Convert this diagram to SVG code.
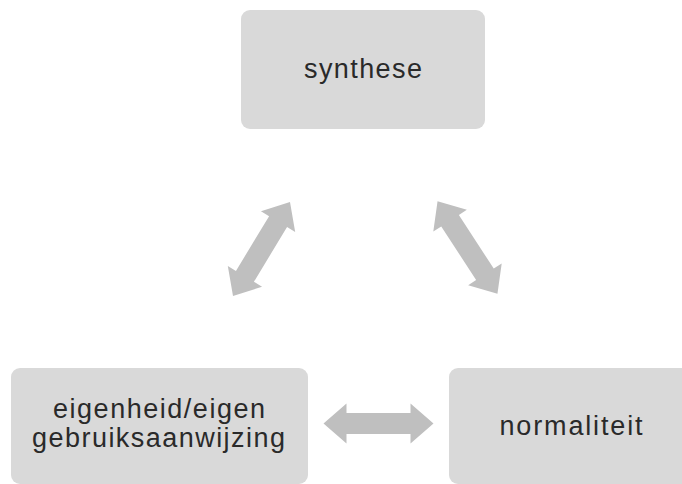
<svg xmlns="http://www.w3.org/2000/svg" width="682" height="484" viewBox="0 0 682 484">
<style>
.box{fill:#d9d9d9;}
.lbl{font-family:"Liberation Sans","DejaVu Sans",sans-serif;font-size:27px;fill:#2a2a2a;text-anchor:middle;}
.arr{fill:#bfbfbf;}
</style>
<defs>
<polygon id="dbl" points="-55,0 -32,-20 -32,-10.5 32,-10.5 32,-20 55,0 32,20 32,10.5 -32,10.5 -32,20"/>
</defs>
<rect width="682" height="484" fill="#fff"/>
<g id="connectors" class="arr">
<use href="#dbl" transform="translate(261.5,249) rotate(-58.8)"/>
<use href="#dbl" transform="translate(467.5,247.5) rotate(57)"/>
<use href="#dbl" transform="translate(378.5,423.5)"/>
</g>
<g id="synthese">
<rect class="box" x="241" y="10" width="244" height="119" rx="9"/>
<text class="lbl" x="363" y="78" textLength="118" lengthAdjust="spacing">synthese</text>
</g>
<g id="eigenheid">
<rect class="box" x="11" y="368" width="297" height="116" rx="9"/>
<text class="lbl" x="159" y="418" textLength="212" lengthAdjust="spacing">eigenheid/eigen</text>
<text class="lbl" x="158.5" y="447" textLength="253" lengthAdjust="spacing">gebruiksaanwijzing</text>
</g>
<g id="normaliteit">
<rect class="box" x="449" y="368" width="250" height="116" rx="9"/>
<text class="lbl" x="571" y="435" textLength="143" lengthAdjust="spacing">normaliteit</text>
</g>
</svg>
